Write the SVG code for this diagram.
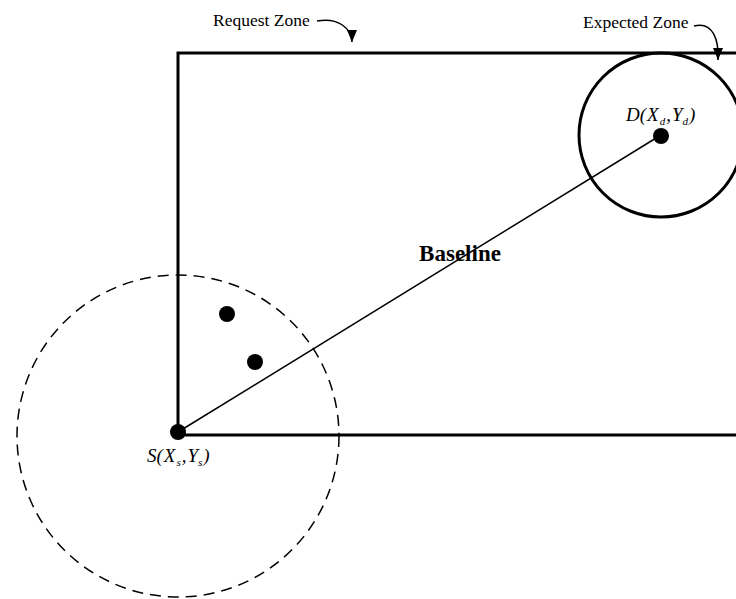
<svg xmlns="http://www.w3.org/2000/svg" width="736" height="599" viewBox="0 0 736 599">
<style>
text{font-family:"Liberation Serif","Times New Roman",serif;fill:#000}
.lbl{font-size:17.5px}
.math{font-size:19px;font-style:italic}
.sub{font-size:11px}
.thick{fill:none;stroke:#000;stroke-width:3}
.thin{fill:none;stroke:#000;stroke-width:1.5}
.dot{fill:#000}
</style>
<defs>
<marker id="ah" markerWidth="10" markerHeight="14" refX="5" refY="12" orient="0" markerUnits="userSpaceOnUse">
<path d="M0,0 L10,0 L5,12 Z" fill="#000"/>
</marker>
</defs>
<rect width="736" height="599" fill="#fff"/>
<g id="request-zone">
<path class="thick" d="M178,435 L178,53 L740,53"/>
<path class="thick" d="M178,435 L740,435"/>
</g>
<g id="expected-zone">
<circle class="thick" cx="661" cy="135" r="82"/>
</g>
<g id="source-range">
<circle cx="178" cy="436" r="161" fill="none" stroke="#000" stroke-width="1.5" stroke-dasharray="11,7"/>
</g>
<g id="connectors">
<line class="thin" x1="178" y1="432" x2="661" y2="135"/>
<path fill="none" stroke="#000" stroke-width="1.5" d="M317,21 C338,17 351,28 352,42" marker-end="url(#ah)"/>
<path fill="none" stroke="#000" stroke-width="1.5" d="M694,26 C713,21 719,40 718,60" marker-end="url(#ah)"/>
</g>
<g id="node-s">
<circle class="dot" cx="178" cy="432" r="8"/>
<text class="math" x="147" y="462">S(<tspan dx="1">X</tspan><tspan class="sub" dx="1" dy="4">s</tspan><tspan dx="1" dy="-4">,</tspan><tspan dx="1">Y</tspan><tspan class="sub" dy="4">s</tspan><tspan dx="1" dy="-4">)</tspan></text>
</g>
<g id="node-d">
<circle class="dot" cx="661" cy="136" r="8"/>
<text class="math" x="626" y="121">D(<tspan dx="1">X</tspan><tspan class="sub" dx="1" dy="4">d</tspan><tspan dx="1" dy="-4">,</tspan><tspan dx="1">Y</tspan><tspan class="sub" dy="4">d</tspan><tspan dx="1" dy="-4">)</tspan></text>
</g>
<g id="node-p1"><circle class="dot" cx="227" cy="314" r="8"/></g>
<g id="node-p2"><circle class="dot" cx="255" cy="362" r="8"/></g>
<g id="labels">
<text class="lbl" x="213" y="26">Request Zone</text>
<text class="lbl" x="583" y="28">Expected Zone</text>
<text x="460" y="261" font-size="23" font-weight="bold" text-anchor="middle">Baseline</text>
</g>
</svg>
